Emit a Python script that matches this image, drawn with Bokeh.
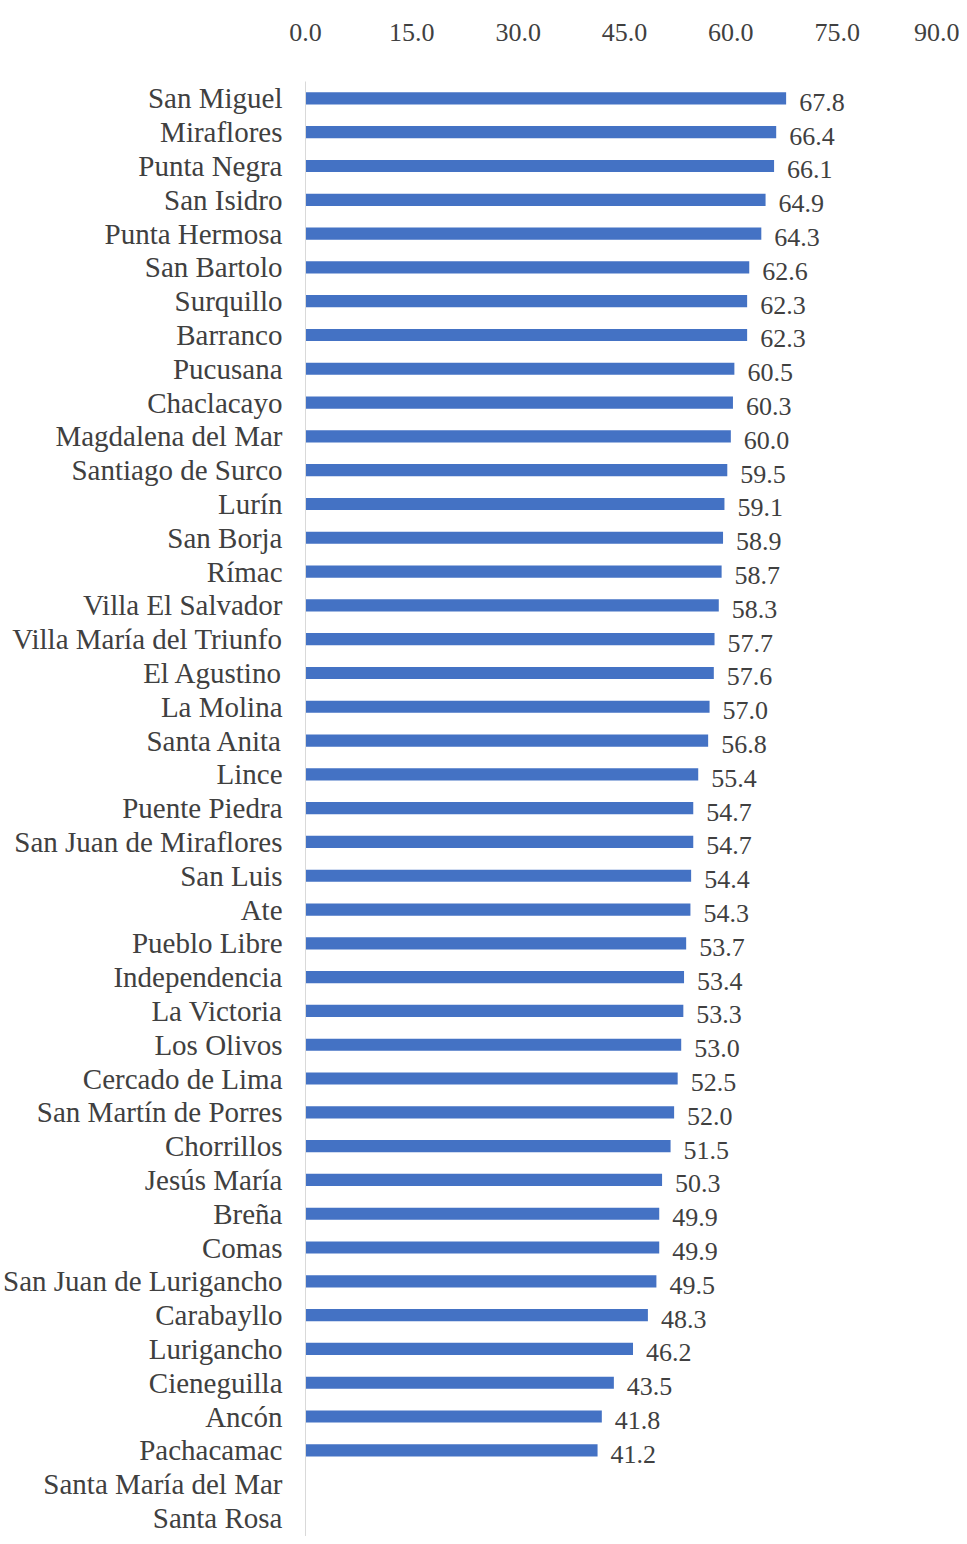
from bokeh.plotting import figure
from bokeh.models import Range1d, FixedTicker, ColumnDataSource
from bokeh.core.properties import value
from bokeh.embed import file_html
from bokeh.resources import INLINE

districts = [
    "San Miguel", "Miraflores", "Punta Negra", "San Isidro", "Punta Hermosa",
    "San Bartolo", "Surquillo", "Barranco", "Pucusana", "Chaclacayo",
    "Magdalena del Mar", "Santiago de Surco", "Lurín", "San Borja", "Rímac",
    "Villa El Salvador", "Villa María del Triunfo", "El Agustino", "La Molina",
    "Santa Anita", "Lince", "Puente Piedra", "San Juan de Miraflores", "San Luis",
    "Ate", "Pueblo Libre", "Independencia", "La Victoria", "Los Olivos",
    "Cercado de Lima", "San Martín de Porres", "Chorrillos", "Jesús María",
    "Breña", "Comas", "San Juan de Lurigancho", "Carabayllo", "Lurigancho",
    "Cieneguilla", "Ancón", "Pachacamac", "Santa María del Mar", "Santa Rosa",
]
values = [
    67.8, 66.4, 66.1, 64.9, 64.3,
    62.6, 62.3, 62.3, 60.5, 60.3,
    60.0, 59.5, 59.1, 58.9, 58.7,
    58.3, 57.7, 57.6, 57.0,
    56.8, 55.4, 54.7, 54.7, 54.4,
    54.3, 53.7, 53.4, 53.3, 53.0,
    52.5, 52.0, 51.5, 50.3,
    49.9, 49.9, 49.5, 48.3, 46.2,
    43.5, 41.8, 41.2, None, None,
]
x_ticks = [0, 15, 30, 45, 60, 75, 90]

FONT = "Liberation Serif"
TXT = "#404040"

idx = [i for i, v in enumerate(values) if v is not None]
src = ColumnDataSource(dict(
    y=idx,
    v=[values[i] for i in idx],
    lab=[f"{values[i]:.1f}" for i in idx],
))

p = figure(width=959, height=1536, output_backend="svg", toolbar_location=None,
           x_axis_location="above",
           x_range=Range1d(0, 90), y_range=Range1d(42.55, -0.5),
           min_border_left=305, min_border_right=16, min_border_top=81,
           min_border_bottom=0)

p.hbar(y="y", right="v", left=0, height=0.36, source=src,
       fill_color="#4472C4", line_color=None)
p.text(x="v", y="y", text="lab", source=src, x_offset=13, y_offset=4,
       text_font=value(FONT), text_font_size="26px", text_color=TXT,
       text_baseline="middle", text_align="left")

p.xaxis.ticker = FixedTicker(ticks=x_ticks)
p.xaxis.major_label_overrides = {t: f"{t:.1f}" for t in x_ticks}
p.xaxis.axis_line_color = None
p.xaxis.major_tick_line_color = None
p.xaxis.minor_tick_line_color = None
p.xaxis.major_label_standoff = 35
p.xaxis.major_label_text_font = FONT
p.xaxis.major_label_text_font_size = "26px"
p.xaxis.major_label_text_color = TXT

p.yaxis.ticker = FixedTicker(ticks=list(range(len(districts))))
p.yaxis.major_label_overrides = {i: d for i, d in enumerate(districts)}
p.yaxis.axis_line_color = "#D9D9D9"
p.yaxis.major_tick_line_color = None
p.yaxis.minor_tick_line_color = None
p.yaxis.major_label_standoff = 17
p.yaxis.major_label_text_font = FONT
p.yaxis.major_label_text_font_size = "29px"
p.yaxis.major_label_text_color = TXT

p.xgrid.grid_line_color = None
p.ygrid.grid_line_color = None
p.outline_line_color = None

open("out.html", "w").write(file_html(p, INLINE))
